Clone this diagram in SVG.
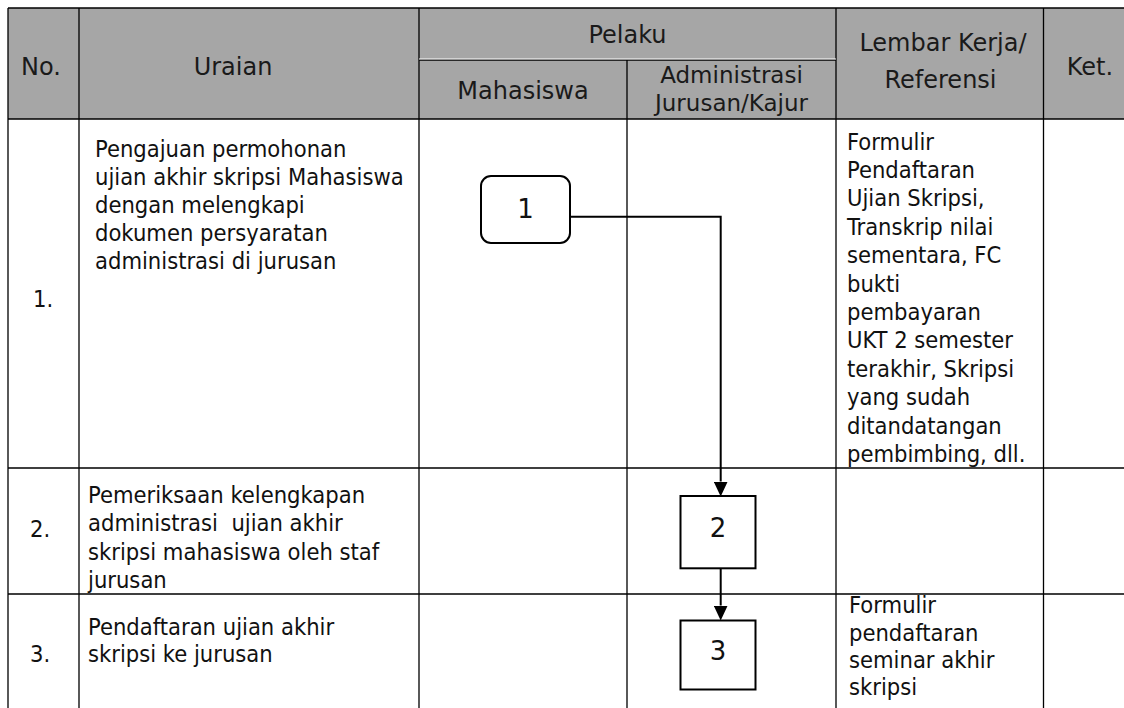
<svg xmlns="http://www.w3.org/2000/svg" width="1124" height="708" viewBox="0 0 1124 708">
<style>
.grid{stroke:#000;stroke-width:1.3;fill:none}
.hdr{font-family:"DejaVu Sans",Verdana,sans-serif;font-size:24px;fill:#1a1a1a;text-anchor:middle}
.hdr2{font-family:"DejaVu Sans",Verdana,sans-serif;font-size:23px;fill:#1a1a1a;text-anchor:middle}
.body{font-family:"DejaVu Sans Condensed","DejaVu Sans",sans-serif;font-stretch:condensed;font-size:23.5px;fill:#111;white-space:pre}
.node{fill:#fff;stroke:#000;stroke-width:2}
.nlabel{font-family:"DejaVu Sans",sans-serif;font-size:26px;fill:#111;text-anchor:middle}
.conn{fill:none;stroke:#000;stroke-width:2}
</style>
<defs>
<marker id="arrow" viewBox="0 0 15 14" refX="0" refY="7" markerWidth="15" markerHeight="14" markerUnits="userSpaceOnUse" orient="auto">
<path d="M0,0 L15,7 L0,14 z" fill="#000"/>
</marker>
</defs>
<rect x="0" y="0" width="1124" height="708" fill="#fff"/>
<g id="table">
<rect x="8" y="8" width="1120" height="111" fill="#a6a6a6"/>
<path class="grid" d="M8,8 H1124 M8,119 H1124 M419,60 H836 M8,468 H1124 M8,594 H1124 M8,8 V708 M79,8 V708 M419,8 V708 M627,60 V708 M836,8 V708 M1043.5,8 V708"/>
<path d="M419,59 H836" stroke="#fff" stroke-width="1"/>
</g>
<g id="header">
<text class="hdr" x="41" y="75">No.</text>
<text class="hdr" x="233" y="75">Uraian</text>
<text class="hdr" x="627.5" y="43">Pelaku</text>
<text class="hdr" x="523" y="99">Mahasiswa</text>
<text class="hdr2" x="731.5" y="83">Administrasi</text>
<text class="hdr2" x="731.5" y="110.5">Jurusan/Kajur</text>
<text class="hdr" x="943" y="51">Lembar Kerja/</text>
<text class="hdr" x="940.5" y="87.5">Referensi</text>
<text class="hdr" x="1090" y="75">Ket.</text>
</g>
<g id="row1">
<text class="body" x="33" y="306.5">1.</text>
<text class="body" x="95" y="156.7">Pengajuan permohonan</text>
<text class="body" x="95" y="184.8">ujian akhir skripsi Mahasiswa</text>
<text class="body" x="95" y="212.9">dengan melengkapi</text>
<text class="body" x="95" y="241">dokumen persyaratan</text>
<text class="body" x="95" y="269.1">administrasi di jurusan</text>
<text class="body" x="847" y="149.5">Formulir</text>
<text class="body" x="847" y="177.9">Pendaftaran</text>
<text class="body" x="847" y="206.3">Ujian Skripsi,</text>
<text class="body" x="847" y="234.7">Transkrip nilai</text>
<text class="body" x="847" y="263.1">sementara, FC</text>
<text class="body" x="847" y="291.5">bukti</text>
<text class="body" x="847" y="319.9">pembayaran</text>
<text class="body" x="847" y="348.3">UKT 2 semester</text>
<text class="body" x="847" y="376.7">terakhir, Skripsi</text>
<text class="body" x="847" y="405.1">yang sudah</text>
<text class="body" x="847" y="433.5">ditandatangan</text>
<text class="body" x="847" y="461.9">pembimbing, dll.</text>
</g>
<g id="row2">
<text class="body" x="30" y="536.5">2.</text>
<text class="body" x="88" y="503">Pemeriksaan kelengkapan</text>
<text class="body" x="88" y="531.3">administrasi  ujian akhir</text>
<text class="body" x="88" y="559.6">skripsi mahasiswa oleh staf</text>
<text class="body" x="88" y="587.5">jurusan</text>
</g>
<g id="row3">
<text class="body" x="30" y="661.5">3.</text>
<text class="body" x="88" y="635">Pendaftaran ujian akhir</text>
<text class="body" x="88" y="662">skripsi ke jurusan</text>
<text class="body" x="849" y="613.3">Formulir</text>
<text class="body" x="849" y="640.6">pendaftaran</text>
<text class="body" x="849" y="667.9">seminar akhir</text>
<text class="body" x="849" y="695.2">skripsi</text>
</g>
<g id="connectors">
<path class="conn" d="M570,216.7 H720.7 V481.5" marker-end="url(#arrow)"/>
<path class="conn" d="M720.7,568.3 V605.5" marker-end="url(#arrow)"/>
</g>
<g id="node1">
<rect class="node" x="481" y="176" width="89" height="67" rx="10" ry="10"/>
<text class="nlabel" x="525.5" y="218">1</text>
</g>
<g id="node2">
<rect class="node" x="680.5" y="496" width="75" height="72.3"/>
<text class="nlabel" x="718" y="536.5">2</text>
</g>
<g id="node3">
<rect class="node" x="680.5" y="620.5" width="75" height="69"/>
<text class="nlabel" x="718" y="660">3</text>
</g>
</svg>
